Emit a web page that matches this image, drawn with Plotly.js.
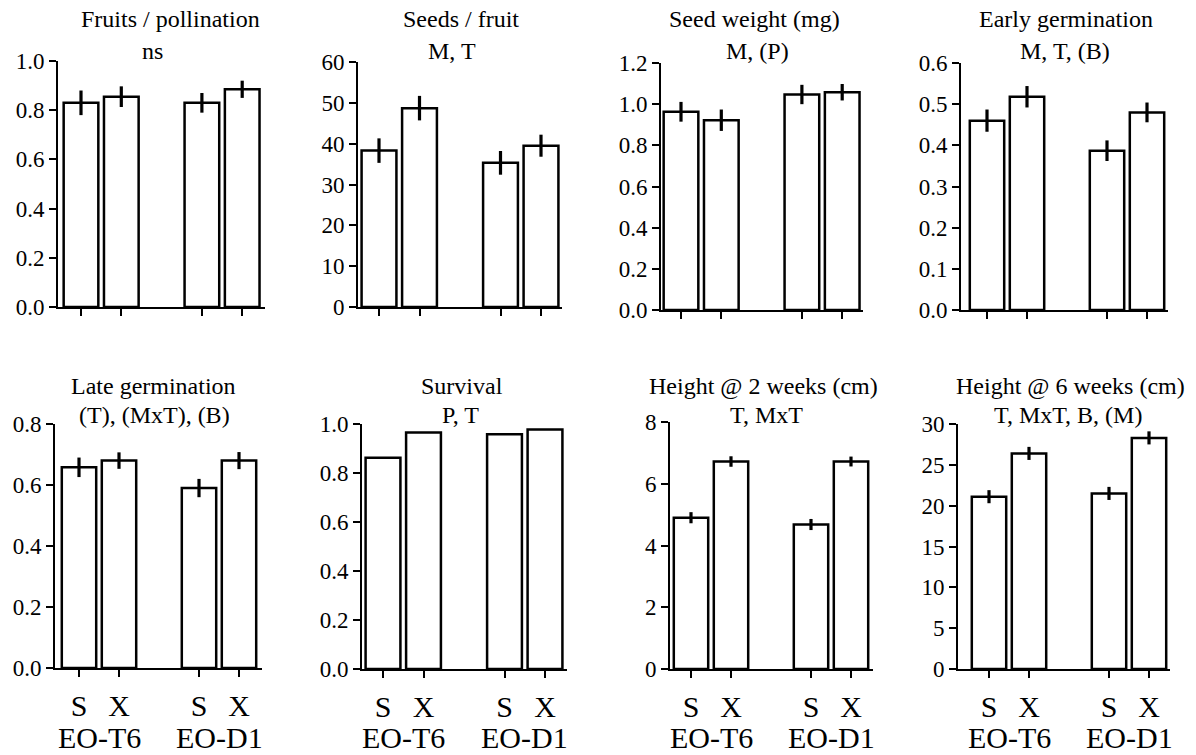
<!DOCTYPE html>
<html>
<head>
<meta charset="utf-8">
<script src="https://cdn.plot.ly/plotly-3.0.1.min.js"></script>
<style>html,body{margin:0;padding:0;background:#fff;}#chart{width:1196px;height:755px;}</style>
</head>
<body>
<div id="chart"></div>
<script>
// ---- data ----
const slots = [0, 1, 3, 4];               // bar slots: two crosses per population
const crossLabels = ['S', 'X', 'S', 'X'];
const populations = ['EO-T6', 'EO-D1'];
const populationSlot = [0.5, 3.5];

const fruitsPerPollination = [0.83, 0.855, 0.83, 0.885];
const fruitsPerPollinationErr = [0.05, 0.042, 0.04, 0.035];

const seedsPerFruit = [38.3, 48.7, 35.3, 39.5];
const seedsPerFruitErr = [3.0, 3.0, 2.9, 2.7];

const seedWeight = [0.963, 0.922, 1.047, 1.058];
const seedWeightErr = [0.048, 0.052, 0.047, 0.04];

const earlyGermination = [0.46, 0.518, 0.387, 0.48];
const earlyGerminationErr = [0.027, 0.026, 0.025, 0.024];

const lateGermination = [0.658, 0.68, 0.59, 0.68];
const lateGerminationErr = [0.032, 0.027, 0.03, 0.028];

const survival = [0.862, 0.965, 0.958, 0.978];

const height2wk = [4.9, 6.72, 4.68, 6.72];
const height2wkErr = [0.18, 0.17, 0.18, 0.16];

const height6wk = [21.1, 26.4, 21.5, 28.3];
const height6wkErr = [0.8, 0.8, 0.8, 0.8];

const titles = ['Fruits / pollination', 'Seeds / fruit', 'Seed weight (mg)', 'Early germination',
                'Late germination', 'Survival', 'Height @ 2 weeks (cm)', 'Height @ 6 weeks (cm)'];
const effects = ['ns', 'M, T', 'M, (P)', 'M, T, (B)',
                 '(T), (MxT), (B)', 'P, T', 'T, MxT', 'T, MxT, B, (M)'];

// ---- pick an installed serif font ----
function pickFont(cands) {
  const c = document.createElement('canvas').getContext('2d');
  const s = 'Fruits / pollination 0.8 EO-T6 MxT @';
  for (const f of cands) {
    let ok = true;
    for (const base of ['monospace', 'sans-serif']) {
      c.font = '40px ' + base; const w0 = c.measureText(s).width;
      c.font = '40px "' + f + '", ' + base; const w1 = c.measureText(s).width;
      if (Math.abs(w1 - w0) < 0.5) { ok = false; break; }
    }
    if (ok) return '"' + f + '", serif';
  }
  return 'serif';
}
const FONT = pickFont(['Liberation Serif', 'Times New Roman', 'Tinos', 'Nimbus Roman', 'Nimbus Roman No9 L', 'DejaVu Serif', 'Noto Serif']);

// ---- layout config (pixels) ----
const W = 1196, H = 755;
const panels = [
  {v: fruitsPerPollination, e: fruitsPerPollinationErr, ymax: 1.0, dt: 0.2, fmt: '.1f', ax: [58, 265], ay: [61, 307], t0: 81, u: 40.3, tx: [171, 152], row: 0},
  {v: seedsPerFruit, e: seedsPerFruitErr, ymax: 60, dt: 10, fmt: 'd', ax: [358, 562], ay: [62, 307], t0: 379, u: 40.5, tx: [461, 452], row: 0},
  {v: seedWeight, e: seedWeightErr, ymax: 1.2, dt: 0.2, fmt: '.1f', ax: [661, 863], ay: [63, 310], t0: 681, u: 40.3, tx: [754, 757], row: 0},
  {v: earlyGermination, e: earlyGerminationErr, ymax: 0.6, dt: 0.1, fmt: '.1f', ax: [961, 1168], ay: [63, 310], t0: 987, u: 40, tx: [1066, 1065], row: 0},
  {v: lateGermination, e: lateGerminationErr, ymax: 0.8, dt: 0.2, fmt: '.1f', ax: [55, 262], ay: [424, 668], t0: 79, u: 40, tx: [153, 154], row: 1},
  {v: survival, e: null, ymax: 1.0, dt: 0.2, fmt: '.1f', ax: [362, 567], ay: [424, 669], t0: 383, u: 40.5, tx: [462, 460], row: 1},
  {v: height2wk, e: height2wkErr, ymax: 8, dt: 2, fmt: 'd', ax: [670, 873], ay: [422, 669], t0: 691, u: 40, tx: [763, 766], row: 1},
  {v: height6wk, e: height6wkErr, ymax: 30, dt: 5, fmt: 'd', ax: [958, 1170], ay: [424, 669], t0: 989, u: 40, tx: [1070, 1068], row: 1}
];
const titleY = [[19, 51], [386, 415]];

const data = [];
const layout = {
  width: W, height: H,
  margin: {l: 0, r: 0, t: 0, b: 0},
  paper_bgcolor: '#fff', plot_bgcolor: 'rgba(0,0,0,0)',
  showlegend: false,
  font: {family: FONT, color: '#000'},
  annotations: []
};

panels.forEach((p, i) => {
  const n = i + 1;
  const sfx = n === 1 ? '' : String(n);
  const trace = {
    type: 'bar', x: slots, y: p.v,
    xaxis: 'x' + sfx, yaxis: 'y' + sfx,
    width: 0.86,
    marker: {color: '#fff', line: {color: '#000', width: 2.5}},
    hoverinfo: 'skip'
  };
  if (p.e) trace.error_y = {type: 'data', array: p.e, visible: true, thickness: 3.2, width: 0, color: '#000'};
  data.push(trace);

  layout['xaxis' + sfx] = {
    domain: [p.ax[0] / W, p.ax[1] / W],
    range: [(p.ax[0] - p.t0) / p.u, (p.ax[1] - p.t0) / p.u],
    anchor: 'y' + sfx,
    showline: true, linecolor: '#000', linewidth: 2,
    ticks: 'outside', ticklen: 7, tickwidth: 2, tickcolor: '#000',
    tickmode: 'array', tickvals: slots, ticktext: crossLabels,
    showticklabels: p.row === 1, ticklabelstandoff: 3,
    tickfont: {family: FONT, size: 30, color: '#000'},
    showgrid: false, zeroline: false, fixedrange: true
  };
  layout['yaxis' + sfx] = {
    domain: [1 - p.ay[1] / H, 1 - p.ay[0] / H],
    range: [0, p.ymax],
    anchor: 'x' + sfx,
    showline: true, linecolor: '#000', linewidth: 2,
    ticks: 'outside', ticklen: 7, tickwidth: 2, tickcolor: '#000',
    tickmode: 'linear', tick0: 0, dtick: p.dt, tickformat: p.fmt,
    tickfont: {family: FONT, size: 23, color: '#000'},
    showgrid: false, zeroline: false, fixedrange: true
  };

  const ty = titleY[p.row];
  layout.annotations.push({
    xref: 'paper', yref: 'paper', x: p.tx[0] / W, y: 1 - ty[0] / H,
    xanchor: 'center', yanchor: 'middle', showarrow: false,
    text: titles[i], font: {family: FONT, size: 24, color: '#000'}
  });
  layout.annotations.push({
    xref: 'paper', yref: 'paper', x: p.tx[1] / W, y: 1 - ty[1] / H,
    xanchor: 'center', yanchor: 'middle', showarrow: false,
    text: effects[i], font: {family: FONT, size: 24, color: '#000'}
  });
  if (p.row === 1) {
    populations.forEach((pop, k) => {
      layout.annotations.push({
        xref: 'x' + sfx, yref: 'paper', x: populationSlot[k], y: 1 - 737 / H,
        xanchor: 'center', yanchor: 'middle', showarrow: false,
        text: pop, font: {family: FONT, size: 30, color: '#000'}
      });
    });
  }
});

Plotly.newPlot('chart', data, layout, {staticPlot: true, displayModeBar: false});
</script>
</body>
</html>
